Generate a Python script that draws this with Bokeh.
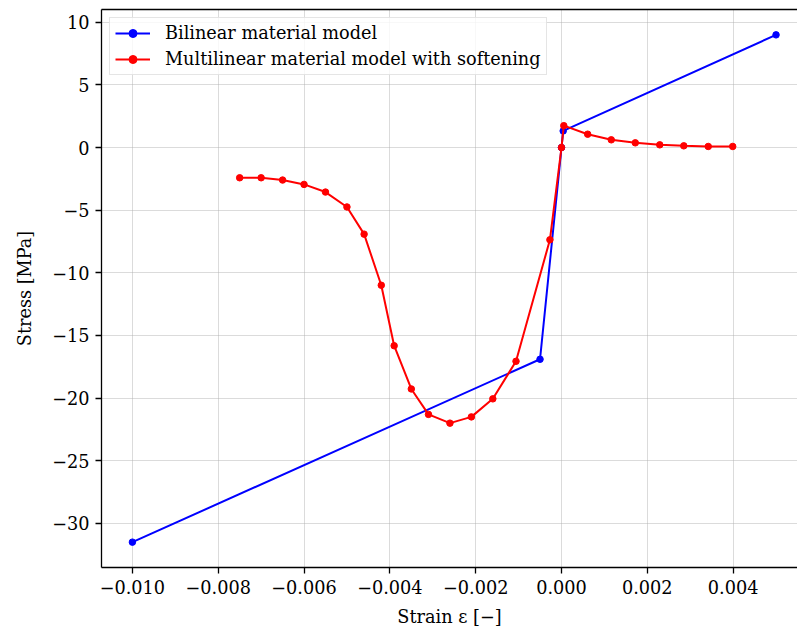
from bokeh.plotting import figure
from bokeh.models import Range1d, FixedTicker, CustomJSTickFormatter, LinearAxis, Legend, LegendItem
from bokeh.embed import file_html
from bokeh.resources import INLINE

# Bilinear material model
bil_strain = [-0.010, -0.0005, 0.0, 0.0000394, 0.005]
bil_stress = [-31.5, -16.9, 0.0, 1.33, 9.0]

# Multilinear material model with softening
mult_strain = [-0.0075, -0.0070, -0.0065, -0.0060, -0.0055, -0.0050, -0.0046,
               -0.0042, -0.0039, -0.0035, -0.0031, -0.0026, -0.0021, -0.0016,
               -0.00106, -0.00027, 0.0, 0.000054, 0.00061, 0.00116, 0.00172,
               0.00229, 0.00285, 0.00342, 0.00399]
mult_stress = [-2.41, -2.41, -2.59, -2.94, -3.55, -4.74, -6.91,
               -10.99, -15.82, -19.27, -21.3, -22.0, -21.5, -20.06,
               -17.06, -7.36, 0.0, 1.75, 1.07, 0.62, 0.38,
               0.22, 0.14, 0.09, 0.09]

x_ticks = [-0.010, -0.008, -0.006, -0.004, -0.002, 0.0, 0.002, 0.004]
y_ticks = [-30, -25, -20, -15, -10, -5, 0, 5, 10]

FONT = "DejaVu Serif"
FS = "17.7px"

p = figure(width=797, height=629, output_backend="svg", toolbar_location=None,
           x_range=Range1d(-0.01072, 0.00550), y_range=Range1d(-33.525, 11.025),
           min_border_left=101, min_border_right=0, min_border_top=9, min_border_bottom=60)
p.outline_line_color = None
p.background_fill_color = "white"
p.border_fill_color = "white"

# grid
p.xgrid.ticker = FixedTicker(ticks=x_ticks)
p.ygrid.ticker = FixedTicker(ticks=y_ticks)
for g in (p.xgrid, p.ygrid):
    g.grid_line_color = "#b0b0b0"
    g.grid_line_alpha = 0.45
    g.grid_line_width = 1

# axes
p.xaxis.ticker = FixedTicker(ticks=x_ticks)
p.yaxis.ticker = FixedTicker(ticks=y_ticks)
p.xaxis.formatter = CustomJSTickFormatter(code="return tick.toFixed(3).replace('-', '\\u2212');")
p.yaxis.formatter = CustomJSTickFormatter(code="return tick.toFixed(0).replace('-', '\\u2212');")
p.xaxis.axis_label = "Strain \u03b5 [\u2212]"
p.yaxis.axis_label = "Stress [MPa]"
for ax in (p.xaxis[0], p.yaxis[0]):
    ax.axis_line_color = "black"
    ax.axis_line_width = 1.3
    ax.major_tick_line_color = "black"
    ax.major_tick_line_width = 1.3
    ax.major_tick_out = 6
    ax.major_tick_in = 0
    ax.minor_tick_line_color = None
    ax.major_label_text_font = FONT
    ax.major_label_text_font_size = FS
    ax.major_label_text_color = "black"
    ax.axis_label_text_font = FONT
    ax.axis_label_text_font_size = FS
    ax.axis_label_text_font_style = "normal"
    ax.axis_label_text_color = "black"
    ax.major_label_standoff = 6
p.xaxis.axis_label_standoff = 10
p.yaxis.axis_label_standoff = 14

# top spine
top = LinearAxis(ticker=FixedTicker(ticks=[]), major_label_text_font_size="0px",
                 axis_line_color="black", axis_line_width=1.3,
                 major_tick_line_color=None, minor_tick_line_color=None,
                 major_label_standoff=0)
p.add_layout(top, "above")

r1 = p.line(bil_strain, bil_stress, line_color="#0000ff", line_width=2)
s1 = p.scatter(bil_strain, bil_stress, size=6.5, fill_color="#0000ff", line_color="#0000ff")
r2 = p.line(mult_strain, mult_stress, line_color="#ff0000", line_width=2)
s2 = p.scatter(mult_strain, mult_stress, size=6.5, fill_color="#ff0000", line_color="#ff0000")

legend = Legend(items=[LegendItem(label="Bilinear material model", renderers=[r1, s1]),
                       LegendItem(label="Multilinear material model with softening", renderers=[r2, s2])],
                location="top_left")
legend.margin = 8
legend.padding = 5
legend.spacing = 6
legend.glyph_width = 35
legend.glyph_height = 20
legend.label_height = 20
legend.label_standoff = 15
legend.label_text_font = FONT
legend.label_text_font_size = FS
legend.label_text_color = "black"
legend.border_line_color = "#cccccc"
legend.border_line_width = 1
legend.background_fill_color = "white"
legend.background_fill_alpha = 0.8
p.add_layout(legend, "center")

open("out.html", "w").write(file_html(p, INLINE))
